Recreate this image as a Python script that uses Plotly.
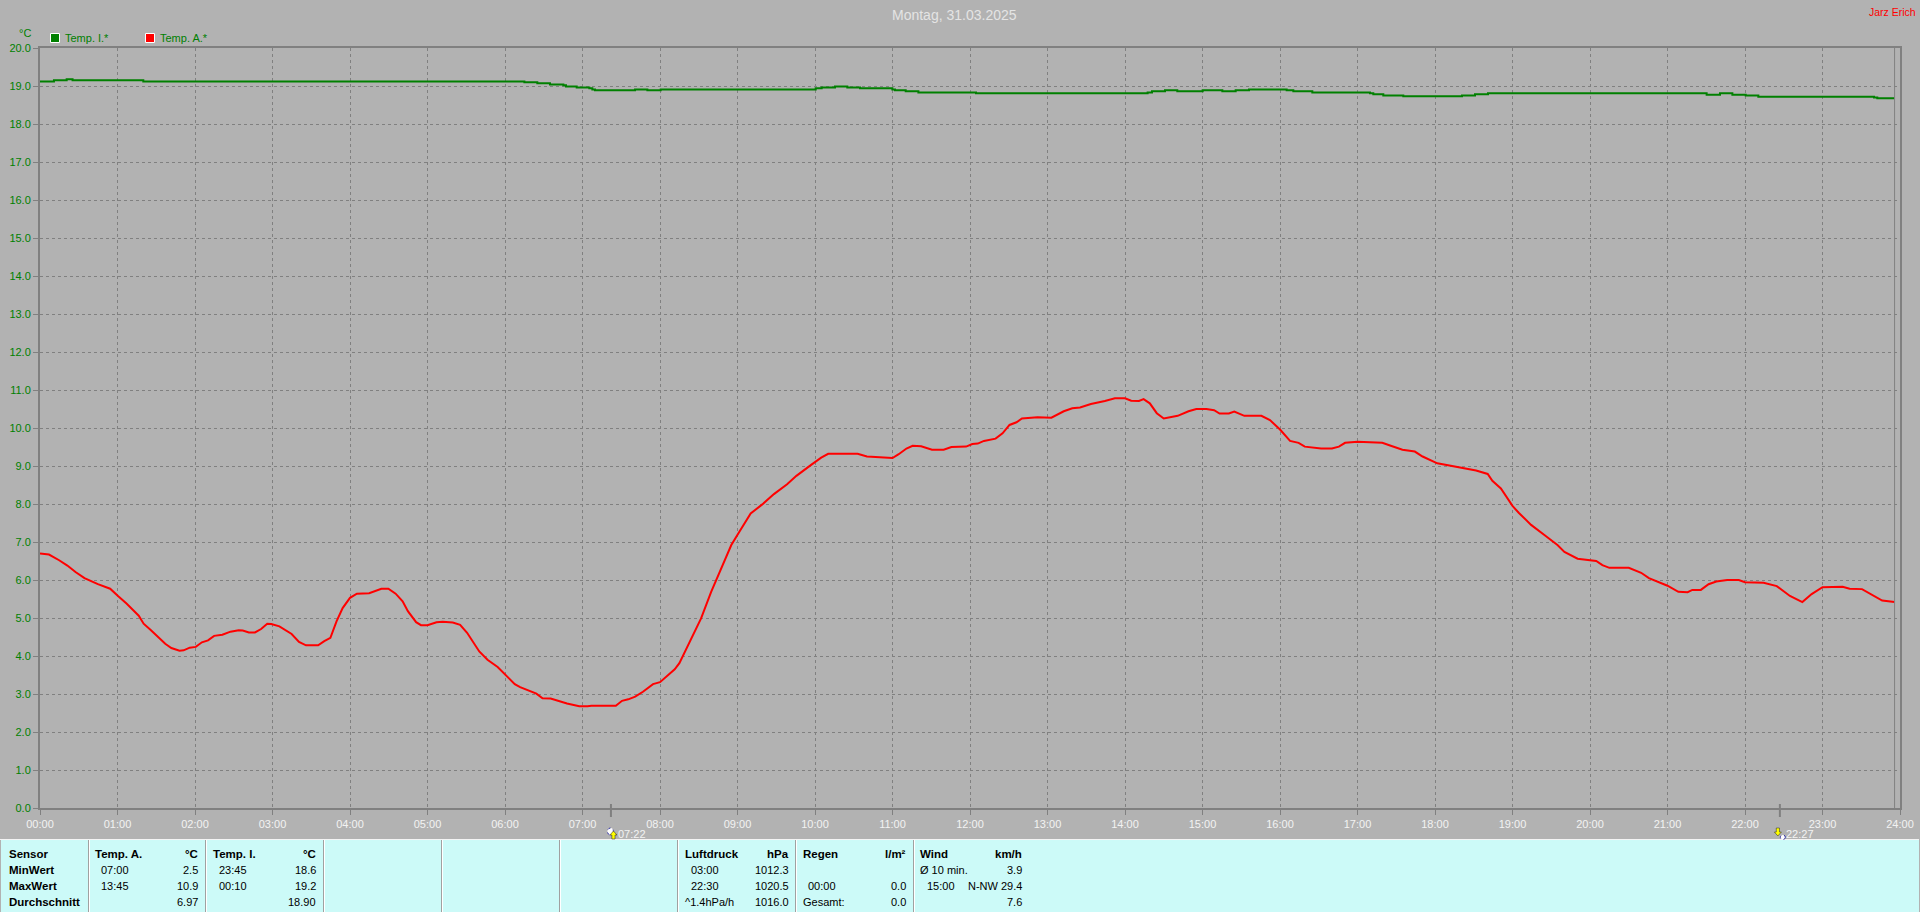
import plotly.graph_objects as go

# ---------- data ----------
hour_labels = ["%02d:00" % h for h in range(25)]
y_ticks = [float(v) for v in range(21)]

temp_a_hours = [0, .116, .247, .353, .458, .574, .747, .905, 1.01, 1.116, 1.274, 1.337, 1.432, 1.616, 1.695, 1.8,
                1.853, 1.932, 2.01, 2.089, 2.168, 2.247, 2.353, 2.458, 2.563, 2.616, 2.695, 2.774, 2.853, 2.932,
                2.984, 3.089, 3.247, 3.342, 3.432, 3.589, 3.668, 3.747, 3.826, 3.905, 4.0, 4.089, 4.247, 4.326,
                4.405, 4.495, 4.589, 4.679, 4.747, 4.853, 4.916, 5.0, 5.116, 5.195, 5.326, 5.421, 5.511, 5.668,
                5.774, 5.905, 6.011, 6.126, 6.195, 6.405, 6.484, 6.589, 6.8, 6.958, 7.063, 7.116, 7.43, 7.51,
                7.59, 7.68, 7.78, 7.91, 8.0, 8.11, 8.19, 8.25, 8.37, 8.53, 8.66, 8.79, 8.92, 9.03, 9.17, 9.32,
                9.47, 9.64, 9.76, 9.95, 10.08, 10.17, 10.55, 10.67, 10.82, 11.0, 11.08, 11.18, 11.26, 11.37,
                11.51, 11.66, 11.76, 11.95, 12.03, 12.1, 12.18, 12.33, 12.42, 12.51, 12.6, 12.67, 12.87, 13.05,
                13.21, 13.32, 13.42, 13.56, 13.74, 13.87, 14.0, 14.08, 14.18, 14.24, 14.32, 14.41, 14.5, 14.58,
                14.68, 14.82, 14.92, 15.05, 15.15, 15.22, 15.34, 15.41, 15.54, 15.76, 15.87, 16.0, 16.13, 16.24,
                16.32, 16.53, 16.67, 16.76, 16.84, 17.0, 17.32, 17.42, 17.58, 17.74, 17.84, 18.03, 18.22, 18.37,
                18.53, 18.68, 18.74, 18.85, 19.0, 19.08, 19.24, 19.42, 19.58, 19.67, 19.84, 20.08, 20.16, 20.25,
                20.5, 20.66, 20.76, 21.0, 21.14, 21.26, 21.32, 21.43, 21.53, 21.63, 21.77, 21.92, 22.0, 22.24,
                22.41, 22.58, 22.74, 22.86, 23.0, 23.26, 23.35, 23.51, 23.64, 23.77, 23.93]
temp_a_values = [6.70, 6.67, 6.52, 6.38, 6.21, 6.05, 5.89, 5.77, 5.57, 5.38, 5.06, 4.85, 4.68, 4.32, 4.21, 4.14,
                 4.15, 4.22, 4.24, 4.36, 4.41, 4.53, 4.56, 4.64, 4.68, 4.67, 4.62, 4.62, 4.71, 4.85,
                 4.84, 4.78, 4.58, 4.37, 4.28, 4.28, 4.39, 4.48, 4.91, 5.26, 5.53, 5.64, 5.65, 5.71,
                 5.77, 5.77, 5.64, 5.44, 5.18, 4.89, 4.81, 4.81, 4.89, 4.90, 4.88, 4.82, 4.61, 4.12,
                 3.90, 3.71, 3.49, 3.26, 3.18, 3.01, 2.89, 2.88, 2.75, 2.68, 2.68, 2.69, 2.69, 2.82,
                 2.86, 2.93, 3.06, 3.26, 3.31, 3.50, 3.65, 3.81, 4.33, 4.99, 5.69, 6.31, 6.92, 7.29, 7.75, 7.99,
                 8.26, 8.52, 8.74, 9.03, 9.22, 9.32, 9.32, 9.25, 9.24, 9.21, 9.31, 9.46, 9.53, 9.52,
                 9.43, 9.43, 9.50, 9.51, 9.58, 9.59, 9.66, 9.72, 9.86, 10.08, 10.15, 10.25, 10.28, 10.27,
                 10.44, 10.52, 10.54, 10.63, 10.71, 10.78, 10.78, 10.72, 10.71, 10.76, 10.65, 10.39, 10.25, 10.28,
                 10.32, 10.44, 10.50, 10.50, 10.47, 10.38, 10.38, 10.43, 10.32, 10.32, 10.21, 9.96, 9.66, 9.61,
                 9.51, 9.46, 9.46, 9.51, 9.61, 9.64, 9.61, 9.54, 9.43, 9.38, 9.25, 9.07, 9.00, 8.93,
                 8.88, 8.79, 8.61, 8.41, 7.95, 7.77, 7.45, 7.17, 6.92, 6.74, 6.56, 6.50, 6.39, 6.32,
                 6.32, 6.19, 6.05, 5.85, 5.69, 5.68, 5.74, 5.74, 5.89, 5.96, 6.00, 6.00, 5.94, 5.93,
                 5.84, 5.58, 5.42, 5.63, 5.81, 5.82, 5.77, 5.76, 5.60, 5.46, 5.42]

temp_i_hours = [0, .18, .344, .42, 1.333, 6.25, 6.417, 6.58, 6.753, 6.787, 6.925, 7.088, 7.127, 7.161, 7.678,
                7.837, 8.009, 10.009, 10.086, 10.258, 10.417, 10.581, 10.998, 11.032, 11.17, 11.334, 12.078,
                14.292, 14.348, 14.516, 14.675, 15.002, 15.256, 15.428, 15.6, 16.086, 16.172, 16.417, 17.161,
                17.204, 17.333, 17.591, 18.348, 18.516, 18.684, 21.505, 21.677, 21.837, 22.009, 22.172, 23.665,
                23.707, 23.93]
temp_i_values = [19.12, 19.15, 19.18, 19.15, 19.12, 19.10, 19.07, 19.04, 19.02, 18.99, 18.96, 18.94, 18.91, 18.89,
                 18.91, 18.89, 18.91, 18.94, 18.96, 18.99, 18.96, 18.94, 18.91, 18.89, 18.86, 18.83, 18.81,
                 18.83, 18.86, 18.89, 18.86, 18.89, 18.86, 18.89, 18.91, 18.89, 18.86, 18.83, 18.81,
                 18.78, 18.75, 18.73, 18.75, 18.78, 18.81, 18.77, 18.81, 18.77, 18.75, 18.72, 18.70,
                 18.68, 18.68]

sunrise_hour = 7.367
sunset_hour = 22.45
last_sample_hour = 23.93

table_rows = ["Sensor", "MinWert", "MaxWert", "Durchschnitt"]

# ---------- styles and pixel layout ----------
BG = "#B2B2B2"
PANEL = "#CCFAF8"
GRID = "#808080"
GREEN = "#008000"
RED = "#FF0000"
WHITE = "#F2F2F2"
FONT = "Liberation Sans"
L, R, T, B = 40, 1900, 48, 808


def px(x):
    return (x - L) / (R - L)


def py(y):
    return (B - y) / (B - T)


annotations = []


def text(x, y, s, color="#000000", size=11, anchor="left", bold=False):
    annotations.append(dict(
        xref="paper", yref="paper", x=px(x), y=py(y), text="<b>%s</b>" % s if bold else s,
        showarrow=False, xanchor=anchor, yanchor="middle", xshift=0, yshift=0,
        font=dict(family=FONT, size=size, color=color), borderpad=0, borderwidth=0,
    ))


shapes = []


def rect(x0, y0, x1, y1, fill, line=None, width=0):
    shapes.append(dict(type="rect", xref="paper", yref="paper", x0=px(x0), x1=px(x1), y0=py(y0), y1=py(y1),
                       fillcolor=fill, line=dict(color=line or fill, width=width), layer="above"))


def seg(x0, y0, x1, y1, color, width=1):
    shapes.append(dict(type="line", xref="paper", yref="paper", x0=px(x0), x1=px(x1), y0=py(y0), y1=py(y1),
                       line=dict(color=color, width=width), layer="above"))


def blob(x0, y0, x1, y1, fill, line):
    shapes.append(dict(type="circle", xref="paper", yref="paper", x0=px(x0), x1=px(x1), y0=py(y0), y1=py(y1),
                       fillcolor=fill, line=dict(color=line, width=1, dash="dot"), layer="above"))


def arrow(x, ytip, ybase, fill):
    w = 3.5 / (R - L)
    xc = px(x)
    ym = py((ytip + ybase) / 2)
    path = "M %f %f L %f %f L %f %f L %f %f L %f %f L %f %f L %f %f Z" % (
        xc, py(ytip), xc + w, ym, xc + w / 2.2, ym, xc + w / 2.2, py(ybase),
        xc - w / 2.2, py(ybase), xc - w / 2.2, ym, xc - w, ym)
    shapes.append(dict(type="path", xref="paper", yref="paper", path=path, fillcolor=fill,
                       line=dict(color="#202020", width=0.5), layer="above"))


# info panel at the bottom
rect(1, 840, 1919, 912, PANEL)
seg(0, 839.5, 1919, 839.5, "#F4F4F4", 1)
for sx in [88.5, 205.5, 323.5, 441.5, 559.5, 677.5, 795.5, 913.5]:
    seg(sx, 840, sx, 912, "#A0A0A0", 1)
    seg(sx + 1, 840, sx + 1, 912, "#FFFFFF", 1)

rows_y = [854, 870, 886, 902]
for ry, lab in zip(rows_y, table_rows):
    text(9, ry, lab, bold=True, size=11.5)

text(95, rows_y[0], "Temp. A.", bold=True, size=11.5)
text(198, rows_y[0], "°C", anchor="right", bold=True, size=11.5)
text(100.7, rows_y[1], "07:00")
text(100.7, rows_y[2], "13:45")
text(198, rows_y[1], "2.5", anchor="right")
text(198, rows_y[2], "10.9", anchor="right")
text(198, rows_y[3], "6.97", anchor="right")

text(213, rows_y[0], "Temp. I.", bold=True, size=11.5)
text(316, rows_y[0], "°C", anchor="right", bold=True, size=11.5)
text(218.7, rows_y[1], "23:45")
text(218.7, rows_y[2], "00:10")
text(316, rows_y[1], "18.6", anchor="right")
text(316, rows_y[2], "19.2", anchor="right")
text(316, rows_y[3], "18.90", anchor="right")

text(684.7, rows_y[0], "Luftdruck", bold=True, size=11.5)
text(788.5, rows_y[0], "hPa", anchor="right", bold=True, size=11.5)
text(690.5, rows_y[1], "03:00")
text(690.5, rows_y[2], "22:30")
text(684.7, rows_y[3], "^1.4hPa/h")
text(788.5, rows_y[1], "1012.3", anchor="right")
text(788.5, rows_y[2], "1020.5", anchor="right")
text(788.5, rows_y[3], "1016.0", anchor="right")

text(802.6, rows_y[0], "Regen", bold=True, size=11.5)
text(906, rows_y[0], "l/m²", anchor="right", bold=True, size=11.5)
text(808, rows_y[2], "00:00")
text(802.6, rows_y[3], "Gesamt:")
text(906, rows_y[2], "0.0", anchor="right")
text(906, rows_y[3], "0.0", anchor="right")

text(920, rows_y[0], "Wind", bold=True, size=11.5)
text(1022, rows_y[0], "km/h", anchor="right", bold=True, size=11.5)
text(920, rows_y[1], "Ø 10 min.")
text(926.6, rows_y[2], "15:00")
text(1022, rows_y[1], "3.9", anchor="right")
text(1022, rows_y[2], "N-NW 29.4", anchor="right")
text(1022, rows_y[3], "7.6", anchor="right")

# heading, author, unit, legend
text(954, 15, "Montag, 31.03.2025", color="#E4E4E4", size=14, anchor="center")
text(1916, 12, "Jarz Erich", color=RED, size=10.5, anchor="right")
text(25, 33, "°C", color=GREEN, size=11, anchor="center")
rect(50.5, 33.5, 59.5, 42.5, GREEN, "#FFFFFF", 1)
text(65, 38, "Temp. I.*", color=GREEN, size=11)
rect(145.5, 33.5, 154.5, 42.5, RED, "#FFFFFF", 1)
text(160, 38, "Temp. A.*", color=GREEN, size=11)

# last-sample line, sunrise and sunset marks
shapes.append(dict(type="line", xref="x", yref="paper", x0=last_sample_hour, x1=last_sample_hour, y0=0, y1=1,
                   line=dict(color=GRID, width=1), layer="above"))
for h in [sunrise_hour, sunset_hour]:
    shapes.append(dict(type="line", xref="x", yref="paper", x0=h, x1=h, y0=py(804), y1=py(817),
                       line=dict(color=GRID, width=2), layer="above"))
sr_x = L + (R - L) * sunrise_hour / 24
ss_x = L + (R - L) * sunset_hour / 24
blob(sr_x - 3.5, 828, sr_x + 2.5, 835, "#FFFFFF", "#3030A0")
arrow(sr_x + 2.5, 831, 839, "#FFFF00")
text(sr_x + 7, 833.7, "07:22", color=WHITE)
blob(ss_x + 0.5, 835, ss_x + 5.5, 839.5, "#FFFFFF", "#3030A0")
arrow(ss_x - 2, 836, 828, "#FFFF00")
text(ss_x + 6.5, 833.7, "22:27", color=WHITE)

fig = go.Figure()
fig.add_trace(go.Scatter(x=temp_i_hours, y=temp_i_values, mode="lines", name="Temp. I.*",
                         line=dict(color=GREEN, width=2, shape="hv")))
fig.add_trace(go.Scatter(x=temp_a_hours, y=temp_a_values, mode="lines", name="Temp. A.*",
                         line=dict(color=RED, width=2)))

fig.update_layout(
    width=1920, height=912, autosize=False,
    margin=dict(l=L, r=1920 - R, t=T, b=912 - B, pad=0, autoexpand=False),
    paper_bgcolor=BG, plot_bgcolor=BG, showlegend=False,
    font=dict(family=FONT, size=11),
    shapes=shapes, annotations=annotations,
    xaxis=dict(range=[0, 24], tickmode="array", tickvals=list(range(25)), ticktext=hour_labels,
               tickfont=dict(color=WHITE, size=11, family=FONT), ticks="outside", ticklen=5, tickwidth=1,
               tickcolor=GRID, showgrid=True, gridcolor=GRID, gridwidth=1, griddash="3px,3px",
               showline=True, linecolor=GRID, linewidth=2, mirror=True, zeroline=False, fixedrange=True,
               automargin=False),
    yaxis=dict(range=[0, 20], tickmode="array", tickvals=y_ticks, ticktext=["%.1f" % v for v in y_ticks],
               tickfont=dict(color=GREEN, size=11, family=FONT), ticks="outside", ticklen=5, tickwidth=1,
               tickcolor=GRID, showgrid=True, gridcolor=GRID, gridwidth=1, griddash="3px,3px",
               showline=True, linecolor=GRID, linewidth=2, mirror=True, zeroline=False, fixedrange=True,
               automargin=False),
)

fig.write_html("out.html", config=dict(displayModeBar=False),
               post_script="document.body.style.margin='0';document.body.style.overflow='hidden';")
